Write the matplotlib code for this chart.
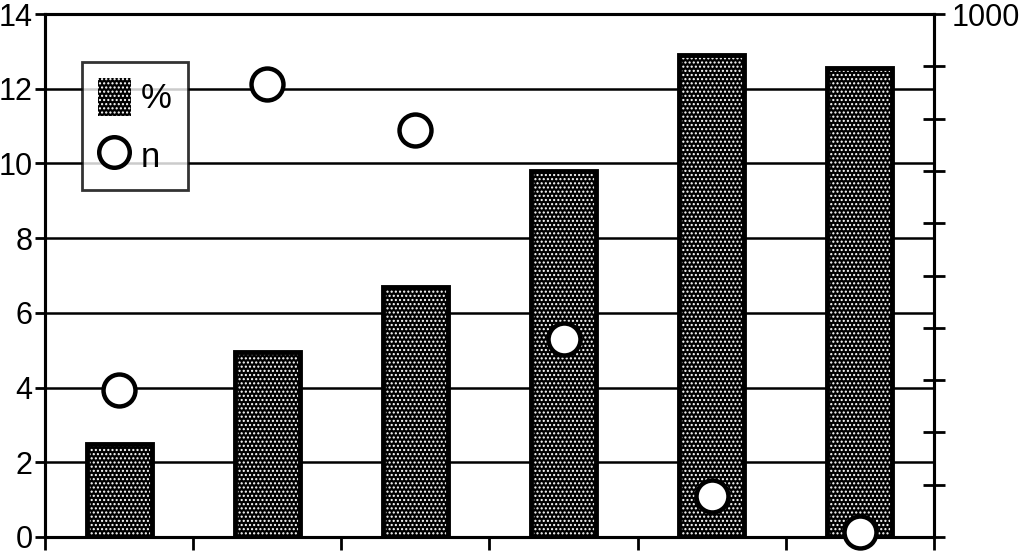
import matplotlib
matplotlib.use("Agg")
import matplotlib.pyplot as plt
import matplotlib.patches as mpatches
from matplotlib.lines import Line2D
import numpy as np

plt.rcParams["font.family"] = ["Liberation Sans", "DejaVu Sans"]
plt.rcParams["hatch.linewidth"] = 1.0

# data
groups = ["1", "2", "3", "4", "5", "6"]
pct = [2.5, 4.95, 6.7, 9.8, 12.9, 12.55]
n_vals = [281, 866, 778, 379, 78, 10]

left_ticks = [0, 2, 4, 6, 8, 10, 12, 14]
right_ticks = list(range(0, 1001, 100))

fig = plt.figure(figsize=(10.24, 5.54), dpi=100)
ax = fig.add_axes([0.044, 0.0307, 0.868, 0.944])
x = np.arange(len(groups))

# grid
for t in left_ticks[1:-1]:
    ax.axhline(t, color="black", lw=1.8, zorder=1)

# bars: black fill with white dot hatch, then outline
ax.bar(x, pct, width=0.44, color="black", edgecolor="white", hatch="....",
       linewidth=0, zorder=2)
ax.bar(x, pct, width=0.44, fill=False, edgecolor="black", linewidth=3.5, zorder=3)

ax.set_xlim(-0.5, len(groups) - 0.5)
ax.set_ylim(0, 14)
ax.set_yticks(left_ticks)
ax.set_xticks(np.arange(-0.5, len(groups), 1.0))
ax.set_xticklabels([])
ax.tick_params(axis="y", direction="out", length=7, width=2, labelsize=22, pad=2)
ax.tick_params(axis="x", direction="out", length=9, width=2)
for s in ax.spines.values():
    s.set_linewidth(2.2)

ax2 = ax.twinx()
ax2.set_ylim(0, 1000)
ax2.set_yticks(right_ticks)
ax2.set_yticklabels(["1000" if t == 1000 else "" for t in right_ticks])
ax2.tick_params(axis="y", direction="inout", length=16, width=2, labelsize=22, pad=5)
ax2.plot(x, n_vals, "o", ms=23, mfc="white", mec="black", mew=3.2, ls="none",
         clip_on=False, zorder=5)
for s in ax2.spines.values():
    s.set_linewidth(2.2)

pct_handle = mpatches.Patch(facecolor="black", edgecolor="white", hatch="....",
                            linewidth=0)
n_handle = Line2D([], [], marker="o", ms=22, mfc="white", mec="black", mew=3.2,
                  ls="none")
leg = ax2.legend([pct_handle, n_handle], ["%", "n"], loc="upper left",
                 bbox_to_anchor=(0.0416, 0.908), borderaxespad=0, fontsize=25,
                 frameon=True, fancybox=False, edgecolor="black",
                 handlelength=0.95, handleheight=1.3, handletextpad=0.3,
                 labelspacing=0.6, borderpad=0.45)
leg.get_frame().set_linewidth(2)
leg.set_zorder(10)

fig.savefig("out.png", dpi=100)
